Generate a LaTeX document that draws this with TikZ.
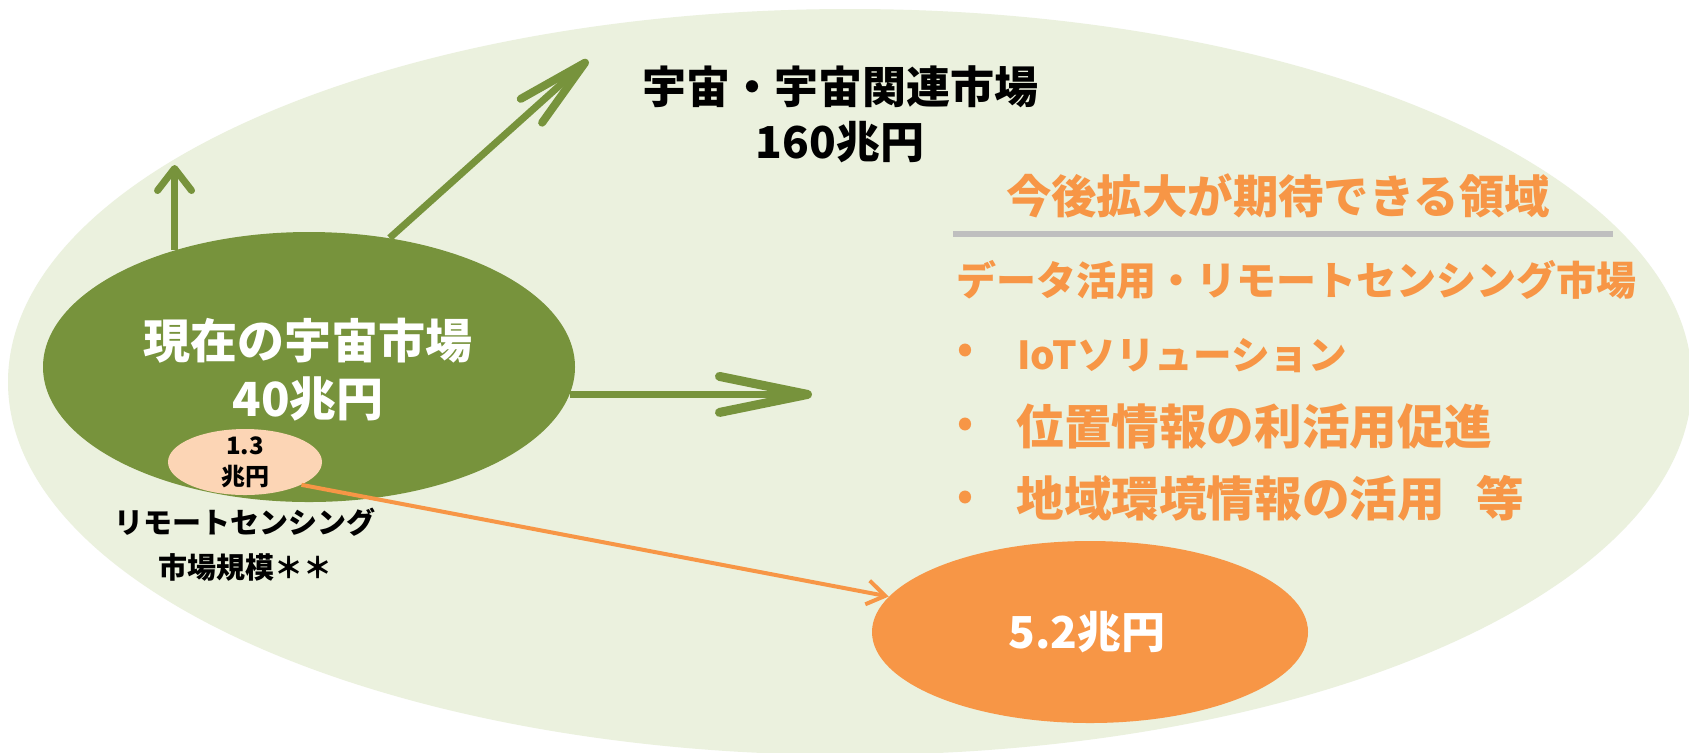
\documentclass[tikz,border=0pt]{standalone}
\usepackage{fontspec}
\setmainfont{Noto Sans CJK JP}
\usetikzlibrary{arrows.meta,shapes.geometric}
\definecolor{bgc}{HTML}{EBF1DE}
\definecolor{olive}{HTML}{77933C}
\definecolor{orng}{HTML}{F79646}
\definecolor{peach}{HTML}{FCD5B5}
\definecolor{rulegray}{HTML}{BFBFBF}
\begin{document}
\begin{tikzpicture}[x=0.5pt,y=-0.5pt,
  blob/.style={ellipse, inner sep=0pt, draw=none},
  txt/.style={inner sep=0pt, align=center, font=\bfseries},
  garrow/.style={draw=olive, line width=3.5pt},
  oarrow/.style={draw=orng, line width=2pt, -{Straight Barb[length=9pt, width=12pt, line width=2pt]}},
  itemtxt/.style={inner sep=0pt, anchor=west, text=orng, font=\bfseries}]
\useasboundingbox (0,0) rectangle (1689,752);
\fill[white] (0,0) rectangle (1689,752);
% background ellipse
\node[blob, fill=bgc, minimum width=842pt, minimum height=373pt] (bg) at (850,382) {};
% main ellipses
\node[blob, fill=olive, minimum width=266pt, minimum height=135pt] (cur) at (309,367) {};
\node[blob, fill=orng, minimum width=218pt, minimum height=91pt] (big) at (1090,632) {};
% arrow tips
\coordinate (uptip) at (173,165);
\coordinate (diagtip) at (588,60);
\coordinate (htip) at (812,398);
\draw[garrow, -{Straight Barb[length=11pt, width=17pt, line width=3.5pt, round]}] (cur.139.5) -- (cur.139.5 |- uptip);
\draw[garrow, -{Straight Barb[length=36pt, width=16pt, line width=4pt, round]}] (cur.58.3) -- (diagtip);
\draw[garrow, -{Straight Barb[length=44pt, width=18pt, line width=4.5pt, round]}] (cur.-6.8) -- (cur.-6.8 -| htip);
% remote sensing ellipse
\node[blob, fill=peach, minimum width=77pt, minimum height=33pt] (rs) at (245,462) {};
\draw[oarrow] (rs.-22.5) -- (big.170.9);
% texts
\node[txt, text=white, font=\bfseries\fontsize{23.5pt}{29pt}\selectfont] (curtxt) at (308,370) {現在の宇宙市場\\40兆円};
\node[txt, font=\bfseries\fontsize{12pt}{15.5pt}\selectfont] (rstxt) at (rs) {1.3\\兆円};
\node[txt, font=\bfseries\fontsize{14.5pt}{22.5pt}\selectfont] (rslabel) at (245,544.5) {リモートセンシング\\市場規模＊＊};
\node[txt, text=white, font=\bfseries\fontsize{22pt}{26pt}\selectfont] (bigtxt) at (1087,632) {5.2兆円};
\node[txt, font=\bfseries\fontsize{22pt}{27.5pt}\selectfont] (toptxt) at (840,114.5) {宇宙・宇宙関連市場\\160兆円};
\node[txt, text=orng, font=\bfseries\fontsize{22.7pt}{26pt}\selectfont] (head1) at (1278,196) {今後拡大が期待できる領域};
\draw[rulegray, line width=3pt] (953,234) -- (1613,234);
\node[itemtxt, font=\bfseries\fontsize{20pt}{24pt}\selectfont] (head2) at (956,280) {データ活用・リモートセンシング市場};
\node[txt, text=orng, font=\bfseries\fontsize{20pt}{24pt}\selectfont] (b1) at (965,353) {•};
\node[txt, text=orng, font=\bfseries\fontsize{20pt}{24pt}\selectfont] (b2) at (965,427) {•};
\node[txt, text=orng, font=\bfseries\fontsize{20pt}{24pt}\selectfont] (b3) at (965,500) {•};
\node[itemtxt, font=\bfseries\fontsize{19.3pt}{23pt}\selectfont] (i1) at (1017,356) {IoTソリューション};
\node[itemtxt, font=\bfseries\fontsize{23.8pt}{28pt}\selectfont] (i2) at (1016,426) {位置情報の利活用促進};
\node[itemtxt, font=\bfseries\fontsize{23.8pt}{28pt}\selectfont] (i3) at (1016,498) {地域環境情報の活用\hspace{16pt}等};
\end{tikzpicture}
\end{document}
